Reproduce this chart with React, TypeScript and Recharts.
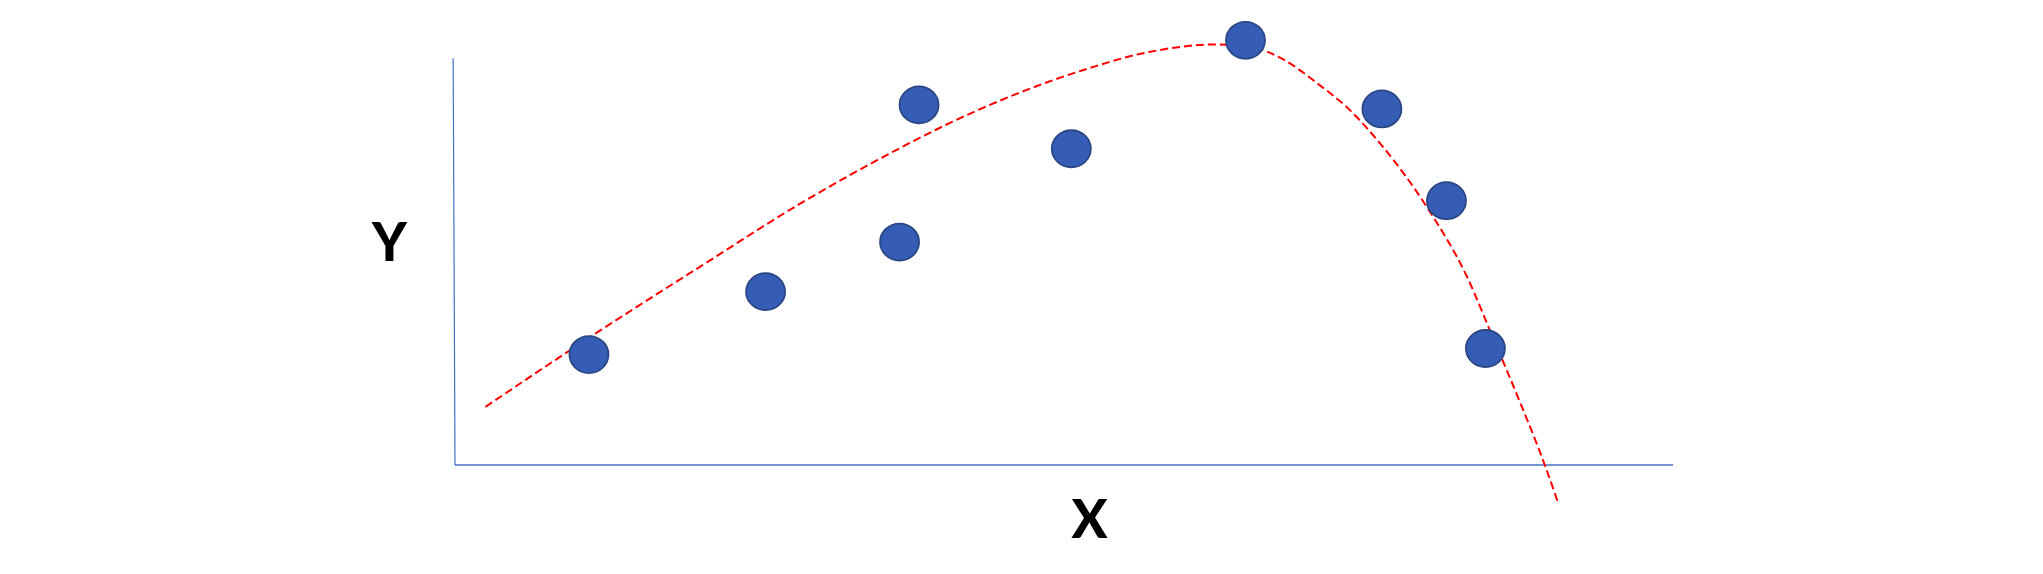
import { ComposedChart, Scatter, Line, XAxis, YAxis, ReferenceLine, ReferenceDot } from 'recharts';

// observed points (x, y in axis units, axes run 0..10)
const pointX = [1.1, 2.55, 3.65, 3.81, 5.06, 6.49, 7.61, 8.14, 8.46];
const pointY = [2.72, 4.27, 5.49, 8.87, 7.79, 10.46, 8.77, 6.51, 2.87];

// dashed trend curve
const curveX = [0.25, 0.7, 1.19, 2.01, 2.83, 3.65, 4.06, 4.61, 5.16, 5.71, 6.26, 6.53, 6.8, 7.08, 7.33, 7.62, 7.98, 8.31, 8.52, 8.73, 8.95, 9.06];
const curveY = [1.43, 2.34, 3.31, 4.88, 6.43, 7.8, 8.42, 9.14, 9.73, 10.18, 10.36, 10.3, 9.99, 9.4, 8.79, 7.83, 6.35, 4.63, 3.15, 1.65, -0.02, -0.96];

const points = pointX.map((x, i) => ({ x, y: pointY[i] }));
const curve = curveX.map((x, i) => ({ x, y: curveY[i] }));

const AXIS_COLOR = '#4472C4';

const Blob = (props: any) => {
  const { cx, cy } = props;
  return <ellipse cx={cx} cy={cy} rx={19.5} ry={18.5} fill="#365DB5" stroke="#2A4786" strokeWidth={1.8} />;
};

const labelStyle = {
  position: 'center' as const, fontSize: 53, fontWeight: 900, fill: '#000',
  fontFamily: 'Lato, sans-serif',
};

export default function App() {
  return (
    <div style={{ position: 'absolute', left: 0, top: 0, width: 2043, height: 574, background: '#fff' }}>
      <ComposedChart width={2043} height={574} margin={{ top: 0, right: 0, bottom: 0, left: 0 }}>
        <XAxis type="number" dataKey="x" hide domain={[-3.7356, 13.0378]} allowDataOverflow />
        <YAxis type="number" dataKey="y" hide domain={[-2.6847, 11.4532]} allowDataOverflow />
        <ReferenceLine segment={[{ x: 0, y: 0 }, { x: 10, y: 0 }]} stroke={AXIS_COLOR} strokeWidth={1.5} />
        <ReferenceLine segment={[{ x: -0.015, y: 10.02 }, { x: 0, y: 0 }]} stroke={AXIS_COLOR} strokeWidth={1.2} />
        <Line data={curve} dataKey="y" type="monotone" stroke="#FF0000" strokeWidth={2} strokeDasharray="8 4"
          dot={false} activeDot={false} isAnimationActive={false} />
        <Scatter data={points} shape={Blob} isAnimationActive={false} />
        <ReferenceDot x={-0.538} y={5.48} r={0} stroke="none" label={{ value: 'Y', ...labelStyle }} />
        <ReferenceDot x={5.209} y={-1.342} r={0} stroke="none" label={{ value: 'X', ...labelStyle }} />
      </ComposedChart>
    </div>
  );
}
